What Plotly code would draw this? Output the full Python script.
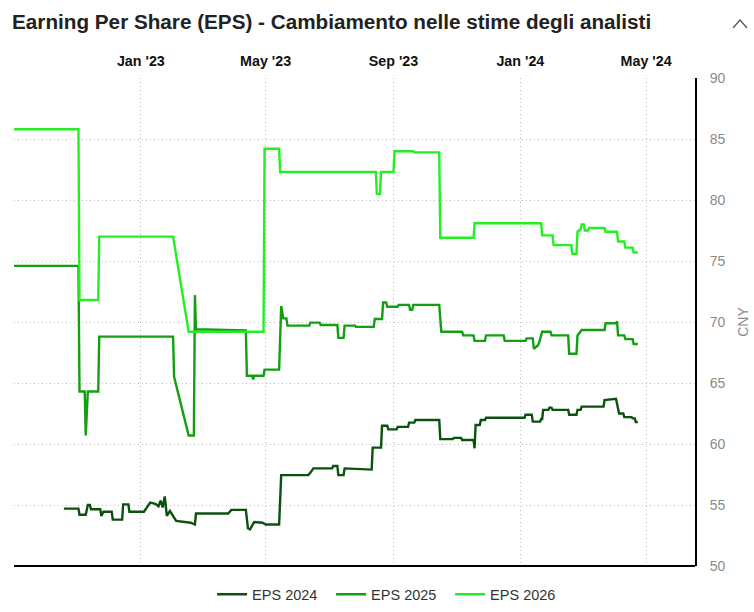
import plotly.graph_objects as go

title = "Earning Per Share (EPS) - Cambiamento nelle stime degli analisti"
series_names = ["EPS 2024", "EPS 2025", "EPS 2026"]
series_colors = ["#0b520f", "#12a012", "#22f022"]

tick_dates = ["2022-09-01", "2023-01-01", "2023-05-01", "2023-09-01", "2024-01-01", "2024-05-01"]
tick_labels = ["", "Jan '23", "May '23", "Sep '23", "Jan '24", "May '24"]
y_ticks = [50, 55, 60, 65, 70, 75, 80, 85, 90]

pts_2024 = [
    ("2022-10-19", 54.7), ("2022-11-02", 54.7), ("2022-11-03", 54.2), ("2022-11-09", 54.2),
    ("2022-11-11", 55.0), ("2022-11-13", 55.0), ("2022-11-14", 54.65), ("2022-11-23", 54.65),
    ("2022-11-24", 54.1), ("2022-11-26", 54.45), ("2022-12-04", 54.45), ("2022-12-05", 53.8),
    ("2022-12-14", 53.8), ("2022-12-15", 55.05), ("2022-12-20", 55.05), ("2022-12-21", 54.45),
    ("2023-01-04", 54.45), ("2023-01-07", 54.85), ("2023-01-10", 55.2), ("2023-01-15", 55.1),
    ("2023-01-18", 54.9), ("2023-01-20", 55.35), ("2023-01-22", 54.8), ("2023-01-24", 55.7),
    ("2023-01-26", 54.1), ("2023-01-29", 54.5), ("2023-02-01", 54.05), ("2023-02-04", 53.7),
    ("2023-02-18", 53.55), ("2023-02-22", 53.4), ("2023-02-23", 54.3), ("2023-03-26", 54.3),
    ("2023-03-29", 54.6), ("2023-04-12", 54.6), ("2023-04-14", 53.1), ("2023-04-16", 53.0),
    ("2023-04-20", 53.6), ("2023-04-28", 53.55), ("2023-05-01", 53.4), ("2023-05-14", 53.4),
    ("2023-05-16", 57.45), ("2023-06-11", 57.45), ("2023-06-13", 57.65), ("2023-06-16", 58.0),
    ("2023-07-04", 58.0), ("2023-07-05", 58.2), ("2023-07-09", 58.2), ("2023-07-10", 57.45),
    ("2023-07-15", 57.45), ("2023-07-16", 58.0), ("2023-08-11", 57.9), ("2023-08-12", 59.7),
    ("2023-08-20", 59.7), ("2023-08-21", 61.5), ("2023-08-26", 61.5), ("2023-08-27", 61.2),
    ("2023-09-04", 61.2), ("2023-09-05", 61.4), ("2023-09-15", 61.4), ("2023-09-16", 61.75),
    ("2023-09-21", 61.75), ("2023-09-22", 61.97), ("2023-10-15", 61.97), ("2023-10-16", 60.4),
    ("2023-10-28", 60.4), ("2023-10-29", 60.5), ("2023-11-05", 60.5), ("2023-11-06", 60.33),
    ("2023-11-17", 60.33), ("2023-11-18", 59.65), ("2023-11-19", 61.56), ("2023-11-23", 61.56),
    ("2023-11-24", 61.97), ("2023-11-28", 61.97), ("2023-11-29", 62.15), ("2024-01-05", 62.15),
    ("2024-01-06", 62.4), ("2024-01-12", 62.4), ("2024-01-13", 61.83), ("2024-01-20", 61.83),
    ("2024-01-21", 62.05), ("2024-01-22", 62.05), ("2024-01-23", 62.8), ("2024-01-28", 62.8),
    ("2024-01-29", 62.98), ("2024-01-31", 62.98), ("2024-02-01", 62.8), ("2024-02-16", 62.8),
    ("2024-02-17", 62.4), ("2024-02-24", 62.4), ("2024-02-25", 62.8), ("2024-02-28", 62.8),
    ("2024-02-29", 63.06), ("2024-03-21", 63.06), ("2024-03-22", 63.6), ("2024-04-02", 63.7),
    ("2024-04-05", 62.5), ("2024-04-09", 62.5), ("2024-04-10", 62.2), ("2024-04-17", 62.2),
    ("2024-04-18", 62.1), ("2024-04-20", 62.1), ("2024-04-21", 61.8), ("2024-04-23", 61.8),
]

pts_2025 = [
    ("2022-09-01", 74.6), ("2022-11-02", 74.6), ("2022-11-03", 64.3), ("2022-11-08", 64.3),
    ("2022-11-09", 60.7), ("2022-11-11", 64.3), ("2022-11-21", 64.3), ("2022-11-22", 68.8),
    ("2023-02-01", 68.8), ("2023-02-02", 65.5), ("2023-02-16", 60.7), ("2023-02-21", 60.7),
    ("2023-02-22", 72.2), ("2023-02-23", 69.4), ("2023-04-12", 69.3), ("2023-04-13", 65.6),
    ("2023-04-18", 65.6), ("2023-04-19", 65.3), ("2023-04-20", 65.6), ("2023-04-29", 65.6),
    ("2023-04-30", 66.1), ("2023-05-14", 66.1), ("2023-05-16", 71.3), ("2023-05-18", 70.3),
    ("2023-05-21", 70.3), ("2023-05-22", 69.7), ("2023-06-12", 69.7), ("2023-06-13", 69.95),
    ("2023-06-22", 69.95), ("2023-06-23", 69.75), ("2023-07-09", 69.75), ("2023-07-10", 68.7),
    ("2023-07-15", 68.7), ("2023-07-16", 69.7), ("2023-07-26", 69.7), ("2023-07-27", 69.6),
    ("2023-08-13", 69.6), ("2023-08-14", 70.25), ("2023-08-21", 70.25), ("2023-08-22", 71.6),
    ("2023-08-25", 71.6), ("2023-08-26", 71.25), ("2023-09-05", 71.25), ("2023-09-06", 71.4),
    ("2023-09-16", 71.4), ("2023-09-17", 71.0), ("2023-09-19", 71.0), ("2023-09-20", 71.4),
    ("2023-10-15", 71.4), ("2023-10-17", 69.2), ("2023-11-06", 69.2), ("2023-11-07", 68.9),
    ("2023-11-17", 68.9), ("2023-11-18", 68.45), ("2023-11-28", 68.45), ("2023-11-29", 68.9),
    ("2023-12-16", 68.9), ("2023-12-17", 68.45), ("2024-01-06", 68.45), ("2024-01-07", 68.66),
    ("2024-01-13", 68.66), ("2024-01-14", 67.8), ("2024-01-18", 68.1), ("2024-01-19", 68.3),
    ("2024-01-22", 69.2), ("2024-01-30", 69.2), ("2024-01-31", 68.9), ("2024-02-16", 68.9),
    ("2024-02-17", 67.4), ("2024-02-24", 67.4), ("2024-02-25", 68.9), ("2024-02-29", 69.35),
    ("2024-03-22", 69.35), ("2024-03-23", 69.9), ("2024-04-02", 69.9), ("2024-04-03", 70.05),
    ("2024-04-04", 68.9), ("2024-04-10", 68.9), ("2024-04-11", 68.6), ("2024-04-18", 68.6),
    ("2024-04-19", 68.2), ("2024-04-23", 68.2),
]

pts_2026 = [
    ("2022-09-01", 85.8), ("2022-11-02", 85.8), ("2022-11-03", 71.8), ("2022-11-21", 71.8),
    ("2022-11-22", 77.0), ("2023-02-01", 77.0), ("2023-02-16", 69.2), ("2023-04-29", 69.2),
    ("2023-04-30", 84.2), ("2023-05-14", 84.2), ("2023-05-15", 82.3), ("2023-08-15", 82.3),
    ("2023-08-16", 80.5), ("2023-08-19", 80.5), ("2023-08-20", 82.3), ("2023-09-01", 82.3),
    ("2023-09-02", 84.0), ("2023-09-20", 84.0), ("2023-09-21", 83.9), ("2023-10-15", 83.9),
    ("2023-10-16", 76.9), ("2023-11-17", 76.9), ("2023-11-18", 78.1), ("2024-01-21", 78.1),
    ("2024-01-22", 77.1), ("2024-02-01", 77.1), ("2024-02-02", 76.3), ("2024-02-19", 76.3),
    ("2024-02-20", 75.6), ("2024-02-24", 75.6), ("2024-02-25", 77.4), ("2024-02-28", 77.6),
    ("2024-02-29", 78.0), ("2024-03-02", 78.0), ("2024-03-03", 77.5), ("2024-03-06", 77.5),
    ("2024-03-07", 77.7), ("2024-03-22", 77.7), ("2024-03-23", 77.4), ("2024-04-03", 77.4),
    ("2024-04-04", 76.6), ("2024-04-10", 76.6), ("2024-04-11", 76.1), ("2024-04-18", 76.1),
    ("2024-04-19", 75.7), ("2024-04-23", 75.7),
]

all_series = [pts_2024, pts_2025, pts_2026]

fig = go.Figure()
for name, color, pts in zip(series_names, series_colors, all_series):
    fig.add_trace(go.Scatter(
        x=[p[0] for p in pts], y=[p[1] for p in pts],
        mode="lines", name=name,
        line=dict(color=color, width=2.4),
    ))

FONT = "Liberation Sans, Arial, sans-serif"
GRID = "#bdbdbd"

fig.update_layout(
    width=754, height=612,
    margin=dict(l=14, r=59, t=78, b=46, autoexpand=False),
    paper_bgcolor="white", plot_bgcolor="white",
    font=dict(family=FONT),
    title=dict(text="<b>" + title + "</b>", x=0.016, xanchor="left", y=0.964, yanchor="middle",
               font=dict(size=20.7, color="#222222", family=FONT)),
    showlegend=True,
    legend=dict(orientation="h", x=0.553, xanchor="center", y=-0.058, yanchor="middle",
                font=dict(size=14.5, color="#333333"), itemwidth=30,
                entrywidth=74, entrywidthmode="pixels"),
    xaxis=dict(
        type="date", side="top",
        range=["2022-09-01", "2024-06-17"],
        tickvals=tick_dates, ticktext=tick_labels,
        tickfont=dict(size=14.3, color="#111111", family=FONT, weight="bold"),
        ticks="", ticklabelstandoff=8,
        showgrid=True, gridcolor=GRID, griddash="1px,3px", gridwidth=1,
        showline=False, zeroline=False,
    ),
    yaxis=dict(
        side="right", range=[50, 90], tickvals=y_ticks,
        tickfont=dict(size=14, color="#8a8a8a", family=FONT),
        ticks="", ticklabelstandoff=10,
        showgrid=True, gridcolor=GRID, griddash="1px,3px", gridwidth=1,
        showline=True, linecolor="#000000", linewidth=2,
        zeroline=False,
        title=dict(text="CNY", font=dict(size=14, color="#8a8a8a", family=FONT), standoff=14),
    ),
    shapes=[
        dict(type="line", xref="paper", yref="paper", x0=0, x1=1, y0=0, y1=0,
             line=dict(color="#000000", width=2)),
        dict(type="path", xref="paper", yref="paper",
             path="M 1.0558 1.1025 L 1.0661 1.1189 L 1.0764 1.1025",
             line=dict(color="#555555", width=1.3)),
    ],
)

fig.write_html("out.html")
